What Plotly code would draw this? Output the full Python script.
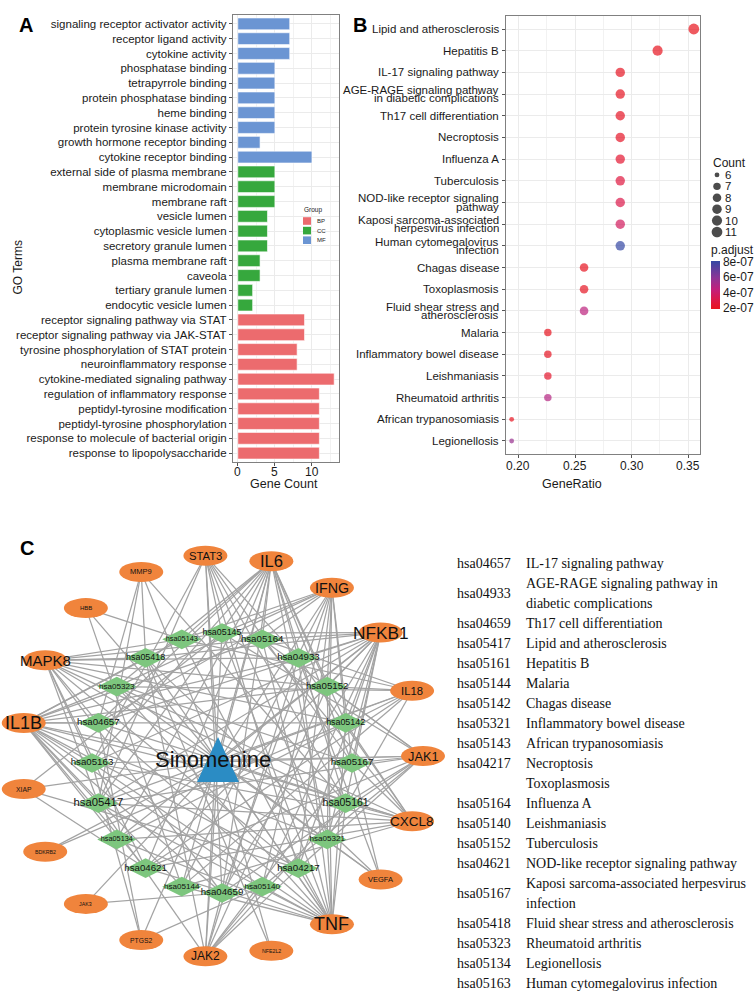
import math
import plotly.graph_objects as go

W, H = 754, 992
FONT = "Liberation Sans"
SERIF = "Liberation Serif"
TXT = "#1a1a1a"

# ---------------- Panel A data (GO terms) ----------------
go_terms = [
    "signaling receptor activator activity", "receptor ligand activity", "cytokine activity",
    "phosphatase binding", "tetrapyrrole binding", "protein phosphatase binding", "heme binding",
    "protein tyrosine kinase activity", "growth hormone receptor binding", "cytokine receptor binding",
    "external side of plasma membrane", "membrane microdomain", "membrane raft", "vesicle lumen",
    "cytoplasmic vesicle lumen", "secretory granule lumen", "plasma membrane raft", "caveola",
    "tertiary granule lumen", "endocytic vesicle lumen",
    "receptor signaling pathway via STAT", "receptor signaling pathway via JAK-STAT",
    "tyrosine phosphorylation of STAT protein", "neuroinflammatory response",
    "cytokine-mediated signaling pathway", "regulation of inflammatory response",
    "peptidyl-tyrosine modification", "peptidyl-tyrosine phosphorylation",
    "response to molecule of bacterial origin", "response to lipopolysaccharide",
]
go_counts = [7, 7, 7, 5, 5, 5, 5, 5, 3, 10,
             5, 5, 5, 4, 4, 4, 3, 3, 2, 2,
             9, 9, 8, 8, 13, 11, 11, 11, 11, 11]
go_groups = ["MF", "MF", "MF", "MF", "MF", "MF", "MF", "MF", "MF", "MF",
             "CC", "CC", "CC", "CC", "CC", "CC", "CC", "CC", "CC", "CC",
             "BP", "BP", "BP", "BP", "BP", "BP", "BP", "BP", "BP", "BP"]
group_names = ["BP", "CC", "MF"]
count_ticks = [0, 5, 10]

# ---------------- Panel B data (KEGG dot plot) ----------------
kegg_terms = [
    "Lipid and atherosclerosis", "Hepatitis B", "IL-17 signaling pathway",
    "AGE-RAGE signaling pathway\nin diabetic complications", "Th17 cell differentiation",
    "Necroptosis", "Influenza A", "Tuberculosis", "NOD-like receptor signaling\npathway",
    "Kaposi sarcoma-associated\nherpesvirus infection", "Human cytomegalovirus\ninfection",
    "Chagas disease", "Toxoplasmosis", "Fluid shear stress and\natherosclerosis", "Malaria",
    "Inflammatory bowel disease", "Leishmaniasis", "Rheumatoid arthritis",
    "African trypanosomiasis", "Legionellosis",
]
kegg_ratio = [0.355, 0.323, 0.290, 0.290, 0.290, 0.290, 0.290, 0.290, 0.290, 0.290,
              0.290, 0.258, 0.258, 0.258, 0.226, 0.226, 0.226, 0.226, 0.194, 0.194]
kegg_count = [11, 10, 9, 9, 9, 9, 9, 9, 9, 9, 9, 8, 8, 8, 7, 7, 7, 7, 6, 6]
kegg_padj = [1.87e-07, 1.95e-07, 2.05e-07, 2.10e-07, 2.15e-07, 2.20e-07, 2.40e-07, 2.80e-07,
             3.10e-07, 3.60e-07, 8.19e-07, 2.00e-07, 2.10e-07, 4.60e-07, 1.95e-07, 2.10e-07,
             2.30e-07, 4.80e-07, 2.00e-07, 5.60e-07]
ratio_ticks = [0.20, 0.25, 0.30, 0.35]
padj_ticks = [2e-07, 4e-07, 6e-07, 8e-07]
padj_ticktext = ["2e-07", "4e-07", "6e-07", "8e-07"]
count_legend = [6, 7, 8, 9, 10, 11]

# ---------------- Panel C data (network) ----------------
drug_name = "Sinomenine"
gene_order = ["JAK1", "IL18", "NFKB1", "IFNG", "IL6", "STAT3", "MMP9", "HBB", "MAPK8", "IL1B",
              "XIAP", "BDKRB2", "JAK3", "PTGS2", "JAK2", "NFE2L2", "TNF", "VEGFA", "CXCL8"]
pathway_order = ["hsa05167", "hsa05142", "hsa05152", "hsa04933", "hsa05164", "hsa05145",
                 "hsa05143", "hsa05418", "hsa05323", "hsa04657", "hsa05163", "hsa05417",
                 "hsa05134", "hsa04621", "hsa05144", "hsa04659", "hsa05140", "hsa04217",
                 "hsa05321", "hsa05161"]
genes_hsa05417 = ["IL6", "TNF", "IL1B", "NFKB1", "CXCL8", "MAPK8", "STAT3", "JAK2", "MMP9", "IL18", "JAK1"]
genes_hsa05161 = ["IL6", "TNF", "NFKB1", "CXCL8", "MAPK8", "STAT3", "JAK1", "JAK2", "MMP9", "IL1B"]
genes_hsa04657 = ["IL6", "TNF", "IL1B", "NFKB1", "CXCL8", "MAPK8", "MMP9", "IFNG", "PTGS2"]
genes_hsa04933 = ["IL6", "TNF", "IL1B", "NFKB1", "CXCL8", "MAPK8", "STAT3", "JAK2", "VEGFA"]
genes_hsa04659 = ["IL6", "IL1B", "NFKB1", "IFNG", "STAT3", "JAK1", "JAK2", "JAK3", "MAPK8"]
genes_hsa04217 = ["TNF", "IFNG", "IL1B", "JAK1", "JAK2", "STAT3", "MAPK8", "XIAP", "NFKB1"]
genes_hsa05164 = ["IL6", "TNF", "IL1B", "NFKB1", "CXCL8", "IFNG", "IL18", "JAK1", "MAPK8"]
genes_hsa05152 = ["IL6", "TNF", "IL1B", "NFKB1", "IFNG", "IL18", "JAK1", "JAK2", "MAPK8"]
genes_hsa04621 = ["IL6", "TNF", "IL1B", "NFKB1", "CXCL8", "IL18", "MAPK8", "XIAP", "JAK1"]
genes_hsa05167 = ["IL6", "NFKB1", "CXCL8", "IFNG", "STAT3", "JAK1", "JAK2", "MAPK8", "VEGFA"]
genes_hsa05163 = ["IL6", "TNF", "IL1B", "NFKB1", "CXCL8", "STAT3", "MAPK8", "PTGS2", "JAK1"]
genes_hsa05142 = ["IL6", "TNF", "IL1B", "NFKB1", "CXCL8", "IFNG", "MAPK8", "BDKRB2"]
genes_hsa05145 = ["TNF", "NFKB1", "IFNG", "STAT3", "JAK1", "JAK2", "MAPK8", "XIAP"]
genes_hsa05418 = ["TNF", "IL1B", "NFKB1", "MAPK8", "MMP9", "VEGFA", "NFE2L2", "JAK2"]
genes_hsa05144 = ["IL6", "TNF", "IL1B", "CXCL8", "IFNG", "IL18", "HBB"]
genes_hsa05321 = ["IL6", "TNF", "IL1B", "NFKB1", "IFNG", "IL18", "STAT3"]
genes_hsa05140 = ["TNF", "IL1B", "NFKB1", "IFNG", "JAK1", "JAK2", "PTGS2"]
genes_hsa05323 = ["IL6", "TNF", "IL1B", "CXCL8", "IFNG", "IL18", "VEGFA"]
genes_hsa05143 = ["IL6", "TNF", "IL1B", "IFNG", "IL18", "HBB"]
genes_hsa05134 = ["IL6", "TNF", "IL1B", "NFKB1", "CXCL8", "IL18"]

table_codes = ["hsa04657", "hsa04933", "hsa04659", "hsa05417", "hsa05161", "hsa05144", "hsa05142",
               "hsa05321", "hsa05143", "hsa04217", "", "hsa05164", "hsa05140", "hsa05152",
               "hsa04621", "hsa05167", "hsa05418", "hsa05323", "hsa05134", "hsa05163"]
table_names = ["IL-17 signaling pathway", "AGE-RAGE signaling pathway in\ndiabetic complications",
               "Th17 cell differentiation", "Lipid and atherosclerosis", "Hepatitis B", "Malaria",
               "Chagas disease", "Inflammatory bowel disease", "African trypanosomiasis",
               "Necroptosis", "Toxoplasmosis", "Influenza A", "Leishmaniasis", "Tuberculosis",
               "NOD-like receptor signaling pathway",
               "Kaposi sarcoma-associated herpesvirus\ninfection",
               "Fluid shear stress and atherosclerosis", "Rheumatoid arthritis", "Legionellosis",
               "Human cytomegalovirus infection"]

pathway_genes = {
    "hsa05417": genes_hsa05417, "hsa05161": genes_hsa05161, "hsa04657": genes_hsa04657,
    "hsa04933": genes_hsa04933, "hsa04659": genes_hsa04659, "hsa04217": genes_hsa04217,
    "hsa05164": genes_hsa05164, "hsa05152": genes_hsa05152, "hsa04621": genes_hsa04621,
    "hsa05167": genes_hsa05167, "hsa05163": genes_hsa05163, "hsa05142": genes_hsa05142,
    "hsa05145": genes_hsa05145, "hsa05418": genes_hsa05418, "hsa05144": genes_hsa05144,
    "hsa05321": genes_hsa05321, "hsa05140": genes_hsa05140, "hsa05323": genes_hsa05323,
    "hsa05143": genes_hsa05143, "hsa05134": genes_hsa05134,
}

# ---------------- styles ----------------
group_colors = {"BP": "#EC6B6E", "CC": "#36A83D", "MF": "#6B95D3"}
grid_col = "#EBEBEB"
frame_col = "#808080"
padj_scale = [[0, "#E8141C"], [0.15, "#E0173F"], [0.4, "#C31F7A"], [0.65, "#8C3596"], [1, "#3447A4"]]
edge_col = "#A3A3A3"
gene_col = "#F0843C"
path_col = "#7DC67E"
drug_col = "#2B8CC4"


def px(x):
    return x / W


def py(y):
    return 1 - y / H


fig = go.Figure()

# ---------- Panel A ----------
fig.add_trace(go.Bar(
    x=go_counts, y=go_terms, orientation="h", width=0.8,
    marker=dict(color=[group_colors[g] for g in go_groups], line=dict(color="white", width=0.6)),
    xaxis="x", yaxis="y", showlegend=False, hoverinfo="skip"))

# ---------- Panel B ----------
kegg_keys = [t.replace("\n", " ") for t in kegg_terms]
cmin_c, cmax_c = min(kegg_count), max(kegg_count)
DMIN, DMAX = 4.8, 10.8


def dot_size(c):
    return DMIN + math.sqrt((c - cmin_c) / (cmax_c - cmin_c)) * (DMAX - DMIN)


fig.add_trace(go.Scatter(
    x=kegg_ratio, y=kegg_keys, mode="markers", xaxis="x2", yaxis="y2",
    marker=dict(size=[dot_size(c) for c in kegg_count], color=kegg_padj,
                colorscale=padj_scale, cmin=min(kegg_padj), cmax=max(kegg_padj),
                line=dict(width=0),
                colorbar=dict(x=px(711), xanchor="left", y=py(308.5), yanchor="bottom",
                              len=67, lenmode="pixels", thickness=9, xpad=0, ypad=0,
                              outlinewidth=0, ticks="", tickvals=padj_ticks,
                              ticktext=padj_ticktext,
                              tickfont=dict(family=FONT, size=12, color=TXT),
                              title=dict(text="p.adjust", side="top",
                                         font=dict(family=FONT, size=12, color=TXT)))),
    showlegend=False, hoverinfo="skip"))

# Count size legend
fig.add_trace(go.Scatter(
    x=[17] * len(count_legend), y=count_legend, mode="markers", xaxis="x4", yaxis="y4",
    marker=dict(size=[dot_size(c) for c in count_legend], color="black", line=dict(width=0)),
    showlegend=False, hoverinfo="skip"))

# ---------- Panel C (network, circular layout) ----------
GCX, GCY, GR = 222, 756, 201
PCX, PCY, PR = 222, 763, 130
DX, DY = 218, 762
gpos = {}
for i, g in enumerate(gene_order):
    a = math.radians(i * 360 / len(gene_order))
    gpos[g] = (GCX + GR * math.cos(a), GCY - GR * math.sin(a))
ppos = {}
for i, p in enumerate(pathway_order):
    a = math.radians(i * 360 / len(pathway_order))
    ppos[p] = (PCX + PR * math.cos(a), PCY - PR * math.sin(a))

ex, ey = [], []
degree = {g: 0 for g in gene_order}
for p in pathway_order:
    for g in pathway_genes[p]:
        ex += [ppos[p][0], gpos[g][0], None]
        ey += [ppos[p][1], gpos[g][1], None]
        degree[g] += 1
for g in gene_order:
    ex += [DX, gpos[g][0], None]
    ey += [DY, gpos[g][1], None]

fig.add_trace(go.Scatter(x=ex, y=ey, mode="lines", xaxis="x3", yaxis="y3",
                         line=dict(color=edge_col, width=1.25), showlegend=False, hoverinfo="skip"))
fig.add_trace(go.Scatter(
    x=[ppos[p][0] for p in pathway_order], y=[ppos[p][1] for p in pathway_order],
    mode="markers+text", xaxis="x3", yaxis="y3",
    marker=dict(symbol="diamond-wide", size=28, color=path_col, line=dict(width=0)),
    text=pathway_order, textposition="middle center",
    textfont=dict(family=FONT, color="#111111",
                  size=[2.5 + 0.8 * len(pathway_genes[p]) for p in pathway_order]),
    showlegend=False, hoverinfo="skip"))

shapes = []
annotations = []
for g in gene_order:
    gx, gy = gpos[g]
    shapes.append(dict(type="circle", xref="x3", yref="y3", x0=gx - 22, x1=gx + 22,
                       y0=gy - 10, y1=gy + 10, fillcolor=gene_col, line=dict(width=0), layer="above"))
    annotations.append(dict(x=gx, y=gy, xref="x3", yref="y3", text=g, showarrow=False,
                            font=dict(family=FONT, size=4.5 + 0.75 * degree[g], color="#111111")))
shapes.append(dict(type="path", xref="x3", yref="y3",
                   path=f"M {DX - 21},{DY + 20} L {DX + 21},{DY + 20} L {DX},{DY - 25} Z",
                   fillcolor=drug_col, line=dict(width=0), layer="above"))
annotations.append(dict(x=DX - 5, y=DY - 3, xref="x3", yref="y3", text=drug_name, showarrow=False,
                        font=dict(family=FONT, size=22, color="#111111")))

# Table of pathway codes
line_i = 0
for code, name in zip(table_codes, table_names):
    lines = name.split("\n")
    ys = [563 + 20 * (line_i + k) for k in range(len(lines))]
    if code:
        annotations.append(dict(x=px(455), y=py(sum(ys) / len(ys)), xref="paper", yref="paper",
                                text=code, showarrow=False, xanchor="left", yanchor="middle",
                                font=dict(family=SERIF, size=14, color="#111111")))
    for ln, yy in zip(lines, ys):
        annotations.append(dict(x=px(524), y=py(yy), xref="paper", yref="paper", text=ln,
                                showarrow=False, xanchor="left", yanchor="middle",
                                font=dict(family=SERIF, size=14, color="#111111")))
    line_i += len(lines)

# Panel B y labels (tight two-line labels)
for key, term in zip(kegg_keys, kegg_terms):
    lines = term.split("\n")
    shifts = [0] if len(lines) == 1 else [4.2, -4.2]
    for ln, sh in zip(lines, shifts):
        annotations.append(dict(x=px(501), y=key, xref="paper", yref="y2", text=ln,
                                showarrow=False, xanchor="right", yanchor="middle", yshift=sh,
                                font=dict(family=FONT, size=11.5, color=TXT)))

# Panel A / B x tick labels placed just under the frame
for v in count_ticks:
    annotations.append(dict(x=v, y=py(472), xref="x", yref="paper", text=str(v),
                            showarrow=False, yanchor="middle",
                            font=dict(family=FONT, size=12, color=TXT)))
for v in ratio_ticks:
    annotations.append(dict(x=v, y=py(466), xref="x2", yref="paper", text=f"{v:.2f}",
                            showarrow=False, yanchor="middle",
                            font=dict(family=FONT, size=12, color=TXT)))

# Count legend labels
annotations.append(dict(x=px(711), y=py(163), xref="paper", yref="paper", text="Count",
                        showarrow=False, xanchor="left", yanchor="middle",
                        font=dict(family=FONT, size=12, color=TXT)))
for c in count_legend:
    annotations.append(dict(x=23, y=c, xref="x4", yref="y4", text=str(c), showarrow=False,
                            xanchor="left", yanchor="middle",
                            font=dict(family=FONT, size=11.5, color=TXT)))

# Group legend (panel A)
annotations.append(dict(x=px(302), y=py(210), xref="paper", yref="paper", text="Group",
                        showarrow=False, xanchor="left", yanchor="middle",
                        font=dict(family=FONT, size=6.5, color=TXT)))
for k, gname in enumerate(group_names):
    cy = 221 + 9.6 * k
    shapes.append(dict(type="rect", xref="paper", yref="paper", x0=px(303), x1=px(311),
                       y0=py(cy + 3.8), y1=py(cy - 3.8), fillcolor=group_colors[gname],
                       line=dict(width=0)))
    annotations.append(dict(x=px(315), y=py(cy), xref="paper", yref="paper", text=gname,
                            showarrow=False, xanchor="left", yanchor="middle",
                            font=dict(family=FONT, size=6, color=TXT)))

# Axis titles and panel letters
annotations += [
    dict(x=px(8), y=py(238.5), xref="paper", yref="paper", text="GO Terms", textangle=-90,
         showarrow=False, font=dict(family=FONT, size=12, color=TXT)),
    dict(x=px(284), y=py(484), xref="paper", yref="paper", text="Gene Count",
         showarrow=False, font=dict(family=FONT, size=12.5, color=TXT)),
    dict(x=px(604), y=py(484), xref="paper", yref="paper", text="GeneRatio",
         showarrow=False, font=dict(family=FONT, size=12.5, color=TXT)),
]
for letter, lx, ly in [("A", 17, 12), ("B", 360, 12), ("C", 18, 548)]:
    annotations.append(dict(x=px(lx), y=py(ly), xref="paper", yref="paper",
                            text=f"<b>{letter}</b>", showarrow=False,
                            font=dict(family=FONT, size=20, color="black")))

axis_common = dict(showline=True, mirror=True, linecolor=frame_col, linewidth=1.2,
                   showgrid=True, gridcolor=grid_col, gridwidth=1, zeroline=False,
                   ticks="outside", ticklen=3, tickcolor="#555555", tickwidth=1,
                   fixedrange=True)
hidden = dict(visible=False, fixedrange=True, showgrid=False, zeroline=False)

fig.update_layout(
    width=W, height=H, margin=dict(l=0, r=0, t=0, b=0),
    paper_bgcolor="white", plot_bgcolor="white", showlegend=False,
    font=dict(family=FONT, color=TXT),
    xaxis=dict(domain=[px(233), px(339)], range=[-0.65, 13.65], tickmode="array",
               tickvals=count_ticks, showticklabels=False,
               minor=dict(tickvals=[2.5, 7.5, 12.5], showgrid=True, gridcolor="#F2F2F2",
                          gridwidth=0.6, ticks=""),
               anchor="y", **axis_common),
    yaxis=dict(domain=[py(462), py(15)], type="category", categoryorder="array",
               categoryarray=go_terms, range=[len(go_terms) - 0.4, -0.6],
               tickfont=dict(size=11.5, color=TXT), anchor="x", **axis_common),
    xaxis2=dict(domain=[px(506), px(700)], range=[0.1890, 0.3605], tickmode="array",
                tickvals=ratio_ticks, showticklabels=False,
                minor=dict(tickvals=[0.225, 0.275, 0.325], showgrid=True, gridcolor="#F2F2F2",
                           gridwidth=0.6, ticks=""),
                anchor="y2", **axis_common),
    yaxis2=dict(domain=[py(454), py(16)], type="category", categoryorder="array",
                categoryarray=kegg_keys, range=[len(kegg_keys) - 0.4, -0.6],
                showticklabels=False, anchor="x2", **axis_common),
    xaxis3=dict(domain=[0, px(452)], range=[0, 452], anchor="y3", **hidden),
    yaxis3=dict(domain=[0, py(535)], range=[992, 535], anchor="x3", **hidden),
    xaxis4=dict(domain=[px(700), 1], range=[0, 54], anchor="y4", **hidden),
    yaxis4=dict(domain=[py(237.75), py(169.25)], range=[11.5, 5.5], anchor="x4", **hidden),
    shapes=shapes, annotations=annotations,
)

fig.write_html("out.html", config={"displayModeBar": False},
               post_script="document.body.style.margin='0px';document.body.style.padding='0px';"
                           "document.body.style.overflow='hidden';")
